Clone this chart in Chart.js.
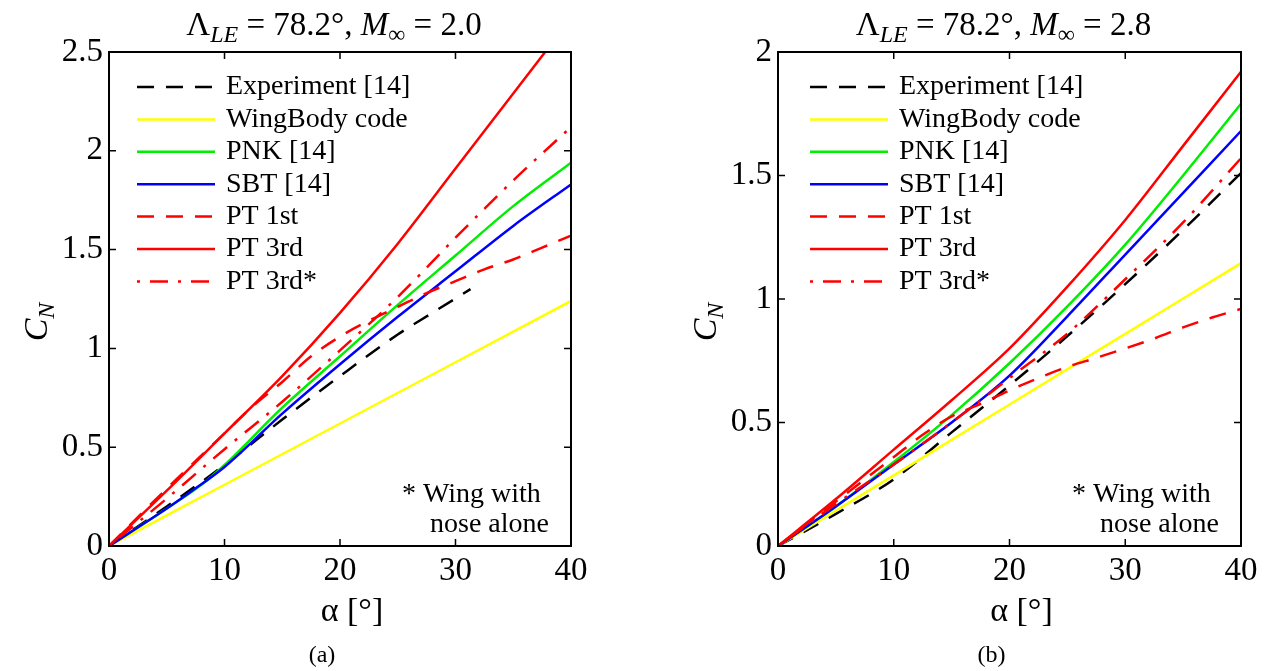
<!DOCTYPE html>
<html>
<head>
<meta charset="utf-8">
<script src="https://cdn.jsdelivr.net/npm/chart.js@4/dist/chart.umd.min.js"></script>
<style>
  body { margin: 0; background: #fff; width: 1271px; height: 671px; overflow: hidden; position: relative; }
  canvas { position: absolute; top: 0; }
  #cA { left: 0; }
  #cB { left: 650px; }
</style>
</head>
<body>
<canvas id="cA" width="620" height="671"></canvas>
<canvas id="cB" width="621" height="671"></canvas>
<script>
// ---- data ----
const seriesNames = ['Experiment [14]', 'WingBody code', 'PNK [14]', 'SBT [14]', 'PT 1st', 'PT 3rd', 'PT 3rd*'];
const xTickValues = [0, 10, 20, 30, 40];
const yTicksA = [0, 0.5, 1, 1.5, 2, 2.5];
const yTicksB = [0, 0.5, 1, 1.5, 2];

const alpha9 = [0, 5, 10, 15, 20, 25, 30, 35, 40];
const alphaWB = [0, 10, 20, 30, 40];
const alphaPT1 = [0, 5, 10, 12.5, 15, 17.5, 20, 22.5, 25, 27.5, 30, 32.5, 35, 37.5, 40];

// (a) M = 2.0
const expA_alpha = [0, 5, 10, 15, 20, 25, 28, 31.3];
const expA = [0, 0.20, 0.41, 0.64, 0.86, 1.07, 1.18, 1.30];
const wbA = [0, 0.31, 0.62, 0.93, 1.24];
const pnkA_alpha = [0, 5, 8, 10, 15, 20, 25, 30, 35, 40];
const pnkA = [0, 0.19, 0.31, 0.41, 0.70, 0.96, 1.22, 1.47, 1.72, 1.94];
const sbtA_alpha = [0, 5, 7.2, 10, 15, 20, 25, 30, 35, 40];
const sbtA = [0, 0.19, 0.28, 0.40, 0.67, 0.92, 1.16, 1.39, 1.62, 1.83];
const pt1A = [0, 0.29, 0.57, 0.71, 0.83, 0.96, 1.06, 1.14, 1.21, 1.28, 1.34, 1.40, 1.45, 1.51, 1.57];
const pt3A = [0, 0.28, 0.57, 0.86, 1.18, 1.53, 1.91, 2.29, 2.67];
const pt3sA = [0, 0.24, 0.49, 0.73, 0.99, 1.26, 1.56, 1.85, 2.12];

// (b) M = 2.8
const expB = [0, 0.13, 0.27, 0.46, 0.65, 0.85, 1.06, 1.28, 1.51];
const wbB = [0, 0.286, 0.573, 0.859, 1.145];
const pnkB = [0, 0.16, 0.34, 0.53, 0.74, 0.97, 1.22, 1.50, 1.79];
const sbtB = [0, 0.16, 0.33, 0.50, 0.69, 0.93, 1.18, 1.43, 1.68];
const pt1B = [0, 0.18, 0.36, 0.45, 0.525, 0.575, 0.63, 0.68, 0.725, 0.762, 0.80, 0.84, 0.885, 0.925, 0.96];
const pt3B = [0, 0.19, 0.39, 0.59, 0.80, 1.05, 1.32, 1.62, 1.92];
const pt3sB = [0, 0.17, 0.33, 0.50, 0.68, 0.86, 1.08, 1.31, 1.57];

// ---- styles ----
const lineColors = ['#000000', '#ffff00', '#00ee00', '#0000ff', '#ff0000', '#ff0000', '#ff0000'];
const lineDashes = [[17, 12], [], [], [], [17, 12], [], [3, 10, 18, 10]];
const serif = '"Liberation Serif", "Times New Roman", serif';

function pts(xs, ys) {
  return xs.map((x, i) => ({ x: x, y: ys[i] }));
}

function makeDatasets(series) {
  return series.map((s, i) => ({
    label: seriesNames[i],
    data: pts(s[0], s[1]),
    borderColor: lineColors[i],
    backgroundColor: lineColors[i],
    borderDash: lineDashes[i],
    borderWidth: 2.5,
    pointRadius: 0,
    fill: false,
    cubicInterpolationMode: 'monotone',
    order: 10 - i   // later series on top, like MATLAB
  }));
}

// text with italic / subscript pieces
function richText(ctx, segs, cx, y, size) {
  const font = s => (s[1] ? 'italic ' : '') + Math.round(s[2] ? size * 0.72 : size) + 'px ' + serif;
  let w = 0;
  segs.forEach(s => { ctx.font = font(s); w += ctx.measureText(s[0]).width; });
  let x = cx - w / 2;
  ctx.textAlign = 'left';
  ctx.textBaseline = 'alphabetic';
  segs.forEach(s => {
    ctx.font = font(s);
    ctx.fillText(s[0], x, y + (s[2] ? size * 0.22 : 0));
    x += ctx.measureText(s[0]).width;
  });
}

const framePlugin = {
  id: 'frame',
  afterDatasetsDraw(chart) {
    const { ctx, chartArea: a, scales: { x, y } } = chart;
    ctx.save();
    ctx.strokeStyle = '#000';
    ctx.lineWidth = 1.5;
    ctx.beginPath();
    xTickValues.forEach(v => {
      const px = x.getPixelForValue(v);
      ctx.moveTo(px, a.bottom); ctx.lineTo(px, a.bottom - 7);
      ctx.moveTo(px, a.top); ctx.lineTo(px, a.top + 7);
    });
    y.ticks.forEach(t => {
      const py = y.getPixelForValue(t.value);
      ctx.moveTo(a.left, py); ctx.lineTo(a.left + 7, py);
      ctx.moveTo(a.right, py); ctx.lineTo(a.right - 7, py);
    });
    ctx.stroke();
    ctx.lineWidth = 2;
    ctx.strokeRect(a.left, a.top, a.right - a.left, a.bottom - a.top);
    ctx.restore();
  }
};

const decorPlugin = {
  id: 'decor',
  afterDraw(chart, args, o) {
    const { ctx, chartArea: a } = chart;
    const cx = (a.left + a.right) / 2;
    ctx.save();
    ctx.fillStyle = '#000';
    // title
    richText(ctx, [['\u039B', false, false], ['LE', true, true], [' = 78.2\u00B0, ', false, false],
      ['M', true, false], ['\u221E', false, true], [' = ' + o.mach, false, false]], cx - 6, 35, 33);
    // y label
    ctx.save();
    ctx.translate(a.left - 62, 322);
    ctx.rotate(-Math.PI / 2);
    richText(ctx, [['C', true, false], ['N', true, true]], 0, 0, 34);
    ctx.restore();
    // x label
    ctx.font = '34px ' + serif;
    ctx.textAlign = 'center';
    ctx.textBaseline = 'middle';
    ctx.fillText('\u03B1 [\u00B0]', cx + 12, 612);
    // caption
    ctx.font = '24px ' + serif;
    ctx.textBaseline = 'alphabetic';
    ctx.fillText(o.caption, cx - 18, 662);
    // note
    ctx.font = '28px ' + serif;
    ctx.textAlign = 'left';
    ctx.fillText('* Wing with', a.right - 169, 502);
    ctx.fillText('nose alone', a.right - 141, 532);
    // legend
    const lx = a.left + o.legendX;
    chart.data.datasets.forEach((d, i) => {
      const ly = 87 + i * 32.4;
      ctx.strokeStyle = d.borderColor;
      ctx.lineWidth = 2.5;
      ctx.setLineDash(d.borderDash);
      ctx.beginPath();
      ctx.moveTo(lx, ly);
      ctx.lineTo(lx + 78, ly);
      ctx.stroke();
      ctx.setLineDash([]);
      ctx.fillStyle = '#000';
      ctx.font = '28px ' + serif;
      ctx.textBaseline = 'middle';
      ctx.fillText(d.label, lx + 89, ly);
    });
    ctx.restore();
  }
};

function makeChart(id, datasets, yTicks, yMax, plotLeft, padRight, mach, caption, legendX) {
  return new Chart(document.getElementById(id), {
    type: 'line',
    data: { datasets: datasets },
    options: {
      responsive: false,
      animation: false,
      layout: { padding: { left: 0, right: padRight, top: 52, bottom: 0 } },
      plugins: {
        legend: { display: false },
        tooltip: { enabled: false },
        decor: { mach: mach, caption: caption, legendX: legendX }
      },
      scales: {
        x: {
          type: 'linear', min: 0, max: 40,
          grid: { display: false, drawTicks: false },
          border: { display: false },
          afterBuildTicks: s => { s.ticks = xTickValues.map(v => ({ value: v })); },
          afterFit: s => { s.height = 125; },
          ticks: { color: '#000', padding: 6, maxRotation: 0, font: { family: serif, size: 33 } }
        },
        y: {
          type: 'linear', min: 0, max: yMax,
          grid: { display: false, drawTicks: false },
          border: { display: false },
          afterBuildTicks: s => { s.ticks = yTicks.map(v => ({ value: v })); },
          afterFit: s => { s.width = plotLeft; },
          ticks: { color: '#000', padding: 6, font: { family: serif, size: 33 }, callback: v => String(v) }
        }
      }
    },
    plugins: [framePlugin, decorPlugin]
  });
}

makeChart('cA', makeDatasets([
  [expA_alpha, expA], [alphaWB, wbA], [pnkA_alpha, pnkA], [sbtA_alpha, sbtA],
  [alphaPT1, pt1A], [alpha9, pt3A], [alpha9, pt3sA]
]), yTicksA, 2.5, 109, 49, '2.0', '(a)', 28);

makeChart('cB', makeDatasets([
  [alpha9, expB], [alphaWB, wbB], [alpha9, pnkB], [alpha9, sbtB],
  [alphaPT1, pt1B], [alpha9, pt3B], [alpha9, pt3sB]
]), yTicksB, 2, 128, 30, '2.8', '(b)', 32);
</script>
</body>
</html>
